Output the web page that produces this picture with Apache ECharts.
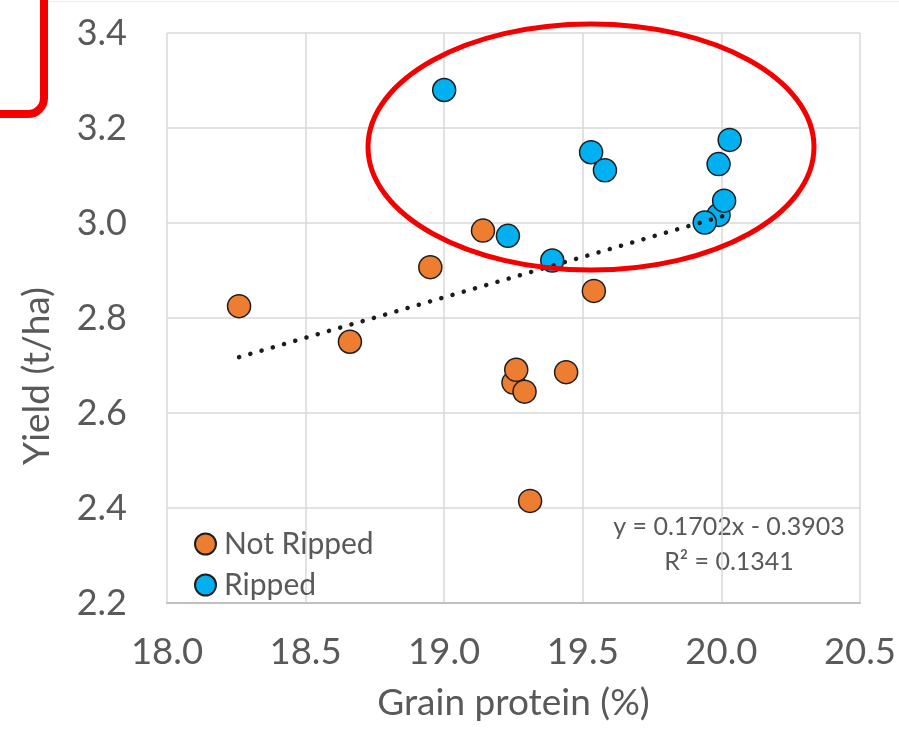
<!DOCTYPE html>
<html>
<head>
<meta charset="utf-8">
<script src="https://cdn.jsdelivr.net/npm/echarts@6/dist/echarts.min.js"></script>
<style>
  html, body { margin: 0; padding: 0; background: #ffffff; }
  #chart { width: 899px; height: 747px; }
</style>
</head>
<body>
<div id="chart"></div>
<script>
// Grain protein (%) vs yield (t/ha), paired by treatment
const notRippedProtein = [19.25, 18.26, 18.66, 18.95, 19.14, 19.54, 19.44, 19.26, 19.29, 19.31];
const notRippedYield   = [2.664, 2.825, 2.750, 2.907, 2.984, 2.857, 2.686, 2.691, 2.645, 2.415];
const rippedProtein    = [19.99, 19.00, 19.23, 19.39, 19.53, 19.58, 20.03, 19.99, 20.01, 19.94];
const rippedYield      = [3.017, 3.280, 2.973, 2.921, 3.149, 3.111, 3.175, 3.124, 3.047, 3.001];

// Linear trend fitted over both treatments
const trendSlope = 0.1702;
const trendIntercept = -0.3903;
const trendLabel = ['y = 0.1702x - 0.3903', 'R² = 0.1341'];

// Axis tick settings
const xTicks = { min: 18.0, max: 20.5, step: 0.5 };
const yTicks = { min: 2.2, max: 3.4, step: 0.2 };

const seriesNames = ['Not Ripped', 'Ripped'];
const colors = ['#ED7D31', '#00B0F0'];

const pairs = (xs, ys) => xs.map((x, i) => [x, ys[i]]);
const allProtein = notRippedProtein.concat(rippedProtein);
const xLo = Math.min(...allProtein);
const xHi = Math.max(...allProtein);
const trendData = [[xLo, trendSlope * xLo + trendIntercept], [xHi, trendSlope * xHi + trendIntercept]];

const FONT = 'Lato';
const TXT = '#595959';

const chart = echarts.init(document.getElementById('chart'), null, { renderer: 'canvas' });

const markerStyle = (c) => ({ color: c, borderColor: '#1e1e1e', borderWidth: 1.5, opacity: 1 });

chart.setOption({
  animation: false,
  backgroundColor: '#ffffff',
  textStyle: { fontFamily: FONT },
  grid: { left: 167, right: 37, top: 33, bottom: 144, containLabel: false },
  xAxis: {
    type: 'value',
    min: xTicks.min, max: xTicks.max, interval: xTicks.step,
    name: 'Grain protein (%)',
    nameLocation: 'middle',
    nameGap: 82,
    nameTextStyle: { fontFamily: FONT, fontSize: 37, color: TXT },
    axisLine: { show: true, lineStyle: { color: '#bfbfbf', width: 2 } },
    axisTick: { show: false },
    axisLabel: { fontFamily: FONT, fontSize: 36.5, color: TXT, margin: 31, formatter: v => v.toFixed(1) },
    splitLine: { show: true, lineStyle: { color: '#d9d9d9', width: 1.5 } }
  },
  yAxis: {
    type: 'value',
    min: yTicks.min, max: yTicks.max, interval: yTicks.step,
    axisLine: { show: false },
    axisTick: { show: false },
    axisLabel: { fontFamily: FONT, fontSize: 36, color: TXT, margin: 40, formatter: v => v.toFixed(1) },
    splitLine: { show: true, lineStyle: { color: '#d9d9d9', width: 1.5 } }
  },
  legend: {
    data: seriesNames,
    orient: 'vertical',
    left: 194, top: 529,
    padding: 0,
    itemWidth: 21, itemHeight: 21, itemGap: 11,
    icon: 'circle',
    textStyle: { fontFamily: FONT, fontSize: 30, color: TXT, padding: [0, 0, 0, 3] }
  },
  series: [
    {
      name: seriesNames[0], type: 'scatter', symbol: 'circle', symbolSize: 23,
      data: pairs(notRippedProtein, notRippedYield),
      itemStyle: markerStyle(colors[0]), z: 2,
      emphasis: { disabled: true }
    },
    {
      name: seriesNames[1], type: 'scatter', symbol: 'circle', symbolSize: 23,
      data: pairs(rippedProtein, rippedYield),
      itemStyle: markerStyle(colors[1]), z: 2,
      emphasis: { disabled: true }
    },
    {
      name: 'Linear trend', type: 'line', data: trendData, symbol: 'none', z: 5,
      lineStyle: { color: '#1c1c1c', width: 4.5, type: [0.1, 11.6], cap: 'round' },
      emphasis: { disabled: true }, silent: true
    }
  ],
  graphic: [
    { type: 'text', x: 37, y: 376, rotation: Math.PI / 2,
      style: { text: 'Yield (t/ha)', fontFamily: FONT, fontSize: 37, fill: TXT, align: 'center', verticalAlign: 'middle' } },
    { type: 'text', x: 729, y: 527,
      style: { text: trendLabel[0], fontFamily: FONT, fontSize: 25, fill: TXT, align: 'center', verticalAlign: 'middle' } },
    { type: 'text', x: 729, y: 562,
      style: { text: trendLabel[1], fontFamily: FONT, fontSize: 25, fill: TXT, align: 'center', verticalAlign: 'middle' } },
    // highlight ring around the ripped cluster
    { type: 'ellipse', z: 50, shape: { cx: 591, cy: 147, rx: 223, ry: 123 },
      style: { fill: null, stroke: '#f50000', lineWidth: 5 } },
    // callout box clipped by the top-left corner
    { type: 'rect', z: 50, shape: { x: -40, y: -40, width: 84, height: 154, r: 16 },
      style: { fill: null, stroke: '#f50000', lineWidth: 8 } },
    { type: 'line', z: 1, shape: { x1: 48, y1: 1.5, x2: 899, y2: 1.5 },
      style: { stroke: '#ececec', lineWidth: 1 } }
  ]
});
</script>
</body>
</html>
